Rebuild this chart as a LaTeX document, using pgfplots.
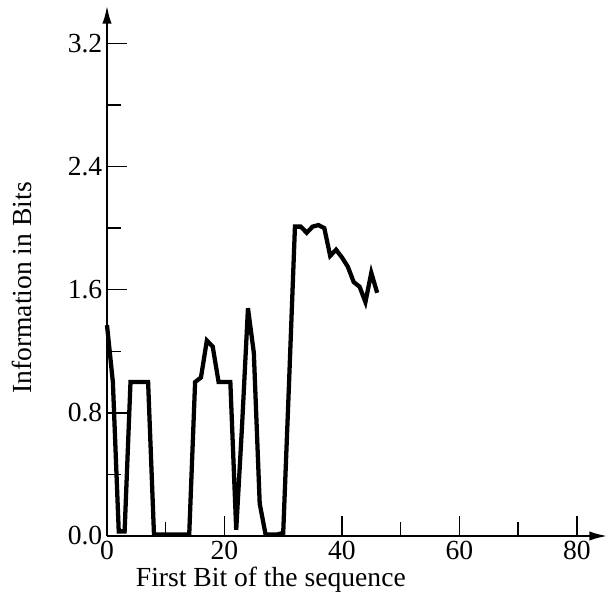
\documentclass[border=0pt]{standalone}
\usepackage{pgfplots}
\pgfplotsset{compat=1.18}
\usetikzlibrary{arrows.meta}
\usepackage{fontspec}
\setmainfont{Liberation Serif}
\begin{document}
\begin{tikzpicture}
\begin{axis}[
    scale only axis,
    width=375.75pt,
    height=398.25pt,
    axis lines=left,
    axis line style={line width=2pt, -{Latex[length=14pt,width=7pt]}},
    xmin=0, xmax=85.3,
    ymin=0, ymax=3.45,
    xtick={0,20,40,60,80},
    minor xtick={10,30,50,70},
    ytick={0,0.8,1.6,2.4,3.2},
    minor ytick={0.4,1.2,2.0,2.8},
    tick align=inside,
    major tick length=15pt,
    minor tick length=10.5pt,
    tick style={line width=1.1pt, black},
    yticklabel style={/pgf/number format/fixed, /pgf/number format/fixed zerofill, /pgf/number format/precision=1},
    /pgf/number format/assume math mode=true,
    font=\fontsize{20.7}{24}\selectfont,
    xlabel={First Bit of the sequence},
    ylabel={Information in Bits},
    xlabel style={at={(axis description cs:0.327,-0.083)}, anchor=center},
    ylabel style={at={(axis description cs:-0.170,0.467)}, anchor=center},
    clip=false,
]
\addplot[black, line width=3.2pt] coordinates {
    (0,1.37) (1,1.0) (2,0.03) (3,0.03) (4,1.0) (5,1.0) (6,1.0) (7,1.0)
    (8,0.01) (9,0.01) (10,0.01) (11,0.01) (12,0.01) (13,0.01) (14,0.01)
    (15,1.0) (16,1.03) (17,1.27) (18,1.23) (19,1.0) (20,1.0) (21,1.0)
    (22,0.04) (23,0.72) (24,1.48) (25,1.19) (26,0.21) (27,0.01) (28,0.01)
    (29,0.01) (30,0.02) (31,1.0) (32,2.01) (33,2.01) (34,1.97) (35,2.01)
    (36,2.02) (37,2.0) (38,1.82) (39,1.86) (40,1.81) (41,1.75) (42,1.65)
    (43,1.62) (44,1.52) (45,1.71) (46,1.58)
};
\end{axis}
\pgfresetboundingbox
\path[use as bounding box] (current axis.origin) ++(-80.25pt,-46.5pt) rectangle ++(457.5pt,448.5pt);
\end{tikzpicture}
\end{document}
